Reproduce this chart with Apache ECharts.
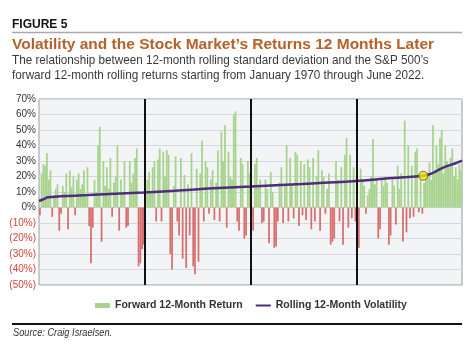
<!DOCTYPE html>
<html>
<head>
<meta charset="utf-8">
<script src="https://cdn.jsdelivr.net/npm/echarts@6/dist/echarts.min.js"></script>
<style>
  html, body { margin: 0; padding: 0; background: #fff; }
  #chart { width: 474px; height: 351px; }
</style>
</head>
<body>
<div id="chart"></div>
<script>
  // forward 12-month returns (%), months ranked by volatility, one array per quartile
  var q1Returns = [-5, 22, 28, 27, 35, 18, 24, -6, 8, 12, 15, -15, -4, 14, 10, 22, -14, 24, 13, 20,
    -5, 18, 22, 12, 15, 24, 8, 26, -12, -36, -13, 18, 10, 40, 52, -22, 30, 14, 26, 12,
    32, -6, 16, 20, 40, -15, 18, 10, 30, -13, -12, 30, 16, 22, 32, 38, -38, -36, -27, -24]
  var q2Returns = [12, 18, 23, 10, 26, 30, -9, 31, 38, -9, 36, 20, 37, 34, -30, -40, 14, 33, -9, -18,
    32, -33, 21, -39, 15, -18, 35, -38, -43, 25, -35, 22, 43, -9, 30, 26, -4, 18, 24, -8,
    16, 37, -9, 49, 30, 53, -13, 36, 20, 18, 60, 62, -9, -15, 32, 28, -20, -18, 30, 22]
  var q3Returns = [-5, -15, 28, 32, 14, 18, -10, -9, 18, 12, -23, 23, 10, -26, -25, -9, 16, 26, -10, 14,
    40, -9, 32, 15, -7, 36, 34, -12, 30, -5, 28, -8, 31, 26, -14, 32, -9, 20, 37, -15,
    24, 20, -4, 12, 22, -24, -22, -20, 30, 18, -9, 26, -24, 34, 45, -13, 34, -7, 26, -9]
  var q4Returns = [-20, -26, 25, 17, 14, -4, 8, 12, 20, 44, 15, 19, -20, -14, 18, 14, 20, 16, -24, -18,
    19, 14, -11, 27, 12, 22, -22, 56, -16, 40, -7, 27, -6, 36, 38, -3, 18, -4, 16, 19,
    22, 29, 18, 53, 24, 40, 28, 45, 50, 22, 40, 30, 26, 32, 38, 20, 26, 18, 28, 24]

  // rolling 12-month volatility (%): [rank, value]
  var volatility = [[0, 4.2], [3, 5.6], [5, 6.6], [12, 7.2], [28, 8.0], [40, 8.7], [59, 9.7],
    [77, 10.8], [96, 12.2], [120, 13.5], [149, 15.2], [180, 17.1], [198, 18.8], [209, 19.7],
    [218, 20.5], [222, 21.6], [225, 23.2], [230, 26.0], [236, 28.4], [240, 30.2]]
  var currentPoint = [[218, 20.5]]
  var quartileBreaks = [60, 120, 180]

  var yTicks = { min: -50, max: 70, step: 10 }

  var returns = q1Returns.concat(q2Returns, q3Returns, q4Returns)
  var ranks = returns.map(function (v, i) { return String(i + 1) })

  var GREEN = '#a7d38c'
  var RED = '#d66f70'
  var PURPLE = '#4e2d7f'

  var chart = echarts.init(document.getElementById('chart'))
  chart.setOption({
    animation: false,
    grid: {
      left: 39, right: 12, top: 99, bottom: 66,
      show: true, backgroundColor: '#f3f4f6', borderColor: '#9a9a9a', borderWidth: 1
    },
    legend: {
      left: 90, top: 295,
      itemWidth: 15, itemHeight: 5, itemGap: 13,
      textStyle: { fontFamily: 'Liberation Sans', fontWeight: 'bold', fontSize: 10.5, color: '#333' },
      data: [
        { name: 'Forward 12-Month Return', icon: 'rect' },
        { name: 'Rolling 12-Month Volatility', icon: 'path://M0,0H15V2H0Z' }
      ]
    },
    xAxis: [{
      type: 'category', data: ranks, boundaryGap: true,
      axisLine: { show: false }, axisTick: { show: false }, axisLabel: { show: false }, splitLine: { show: false }
    }, {
      type: 'value', min: 0, max: returns.length, show: false, splitLine: { show: false }
    }],
    yAxis: {
      type: 'value', min: yTicks.min, max: yTicks.max, interval: yTicks.step,
      axisLine: { show: false }, axisTick: { show: false },
      splitLine: { lineStyle: { color: '#d6d8dc', width: 1 } },
      axisLabel: {
        margin: 3, fontFamily: 'Liberation Sans', fontSize: 10,
        formatter: function (v) { return v < 0 ? '{n|(' + (-v) + '%)}' : '{p|' + v + '%}' },
        rich: { p: { color: '#333', fontSize: 10 }, n: { color: '#d0463c', fontSize: 10 } }
      }
    },
    series: [{
      name: 'Forward 12-Month Return',
      type: 'bar',
      barCategoryGap: '0%',
      itemStyle: { color: GREEN },
      data: returns.map(function (v) {
        return { value: v, itemStyle: { color: v < 0 ? RED : GREEN } }
      })
    }, {
      name: 'Rolling 12-Month Volatility',
      type: 'line',
      xAxisIndex: 1,
      symbol: 'none',
      smooth: 0.3,
      lineStyle: { color: PURPLE, width: 2.5 },
      itemStyle: { color: PURPLE },
      data: volatility,
      z: 4,
      markLine: {
        silent: true, symbol: 'none', label: { show: false },
        lineStyle: { color: '#111', width: 2, type: 'solid' },
        data: quartileBreaks.map(function (x) { return { xAxis: x } })
      }
    }, {
      name: 'current',
      type: 'scatter',
      xAxisIndex: 1,
      symbolSize: 9,
      itemStyle: { color: '#f4e600', borderColor: '#5a5a2a', borderWidth: 1 },
      data: currentPoint,
      z: 5
    }],
    graphic: [
      { type: 'text', left: 12, top: 19, style: { text: 'FIGURE 5', font: 'bold 12px "Liberation Sans"', fill: '#111' } },
      { type: 'line', shape: { x1: 12, y1: 32.5, x2: 462, y2: 32.5 }, style: { stroke: '#aaaaaa', lineWidth: 1.5 } },
      { type: 'text', x: 12, y: 44.5, style: { text: 'Volatility and the Stock Market\u2019s Returns 12 Months Later', font: 'bold 15.5px "Liberation Sans"', fill: '#b4612c', textVerticalAlign: 'middle' } },
      { type: 'text', x: 12, y: 60.5, scaleX: 0.9, style: { text: 'The relationship between 12-month rolling standard deviation and the S&P 500\u2019s', font: '13px "Liberation Sans"', fill: '#3a3a3a', textVerticalAlign: 'middle' } },
      { type: 'text', x: 12, y: 75.5, scaleX: 0.9, style: { text: 'forward 12-month rolling returns starting from January 1970 through June 2022.', font: '13px "Liberation Sans"', fill: '#3a3a3a', textVerticalAlign: 'middle' } },
      { type: 'line', shape: { x1: 12, y1: 324, x2: 462, y2: 324 }, style: { stroke: '#111', lineWidth: 2 } },
      { type: 'text', x: 13, y: 333.5, scaleX: 0.88, style: { text: 'Source: Craig Israelsen.', font: 'italic 10.5px "Liberation Sans"', fill: '#333', textVerticalAlign: 'middle' } }
    ]
  })
</script>
</body>
</html>
